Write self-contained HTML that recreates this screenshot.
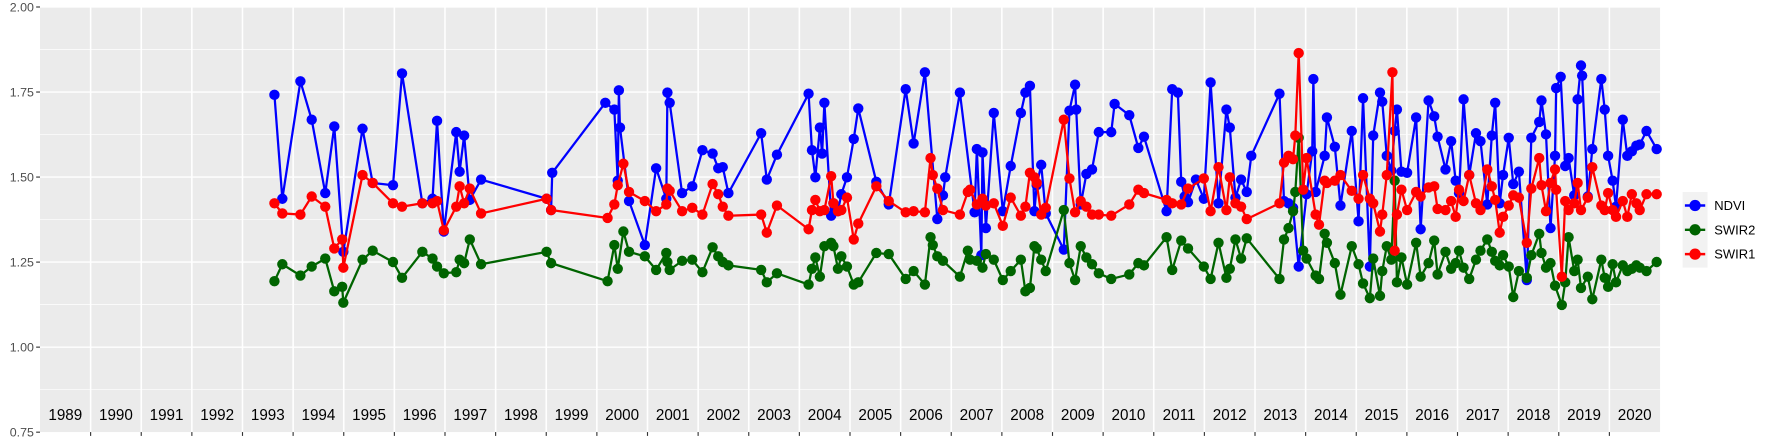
<!DOCTYPE html>
<html><head><meta charset="utf-8"><style>html,body{margin:0;padding:0;background:#fff}svg{display:block}</style></head>
<body>
<svg id="s" width="1773" height="442" viewBox="0 0 1570 391.4" xmlns="http://www.w3.org/2000/svg" font-family="Liberation Sans, sans-serif">
<rect x="35.4" y="6.2" width="1434.6" height="376.4" fill="#ebebeb"/>
<g id="grid"></g>
<g id="data"></g>
<g font-size="11" fill="#4d4d4d" text-anchor="end">
<text x="30" y="10">2.00</text><text x="30" y="85.5">1.75</text><text x="30" y="160.8">1.50</text>
<text x="30" y="236.1">1.25</text><text x="30" y="311.4">1.00</text><text x="30" y="386.7">0.75</text>
</g>
<rect x="1490" y="170" width="22" height="67" fill="#f2f2f2"/>
<g stroke-width="2.2"><line x1="1492" x2="1510" y1="182" y2="182" stroke="#0000ff"/><circle cx="1501" cy="182" r="5" fill="#0000ff"/>
<line x1="1492" x2="1510" y1="203.5" y2="203.5" stroke="#006400"/><circle cx="1501" cy="203.5" r="5" fill="#006400"/>
<line x1="1492" x2="1510" y1="225" y2="225" stroke="#ff0000"/><circle cx="1501" cy="225" r="5" fill="#ff0000"/></g>
<g font-size="11.5" fill="#000"><text x="1518" y="186">NDVI</text><text x="1518" y="207.5">SWIR2</text><text x="1518" y="229">SWIR1</text></g>
</svg>
<script>
const NS="http://www.w3.org/2000/svg";
function el(p,t,a){const e=document.createElementNS(NS,t);for(const k in a)e.setAttribute(k,a[k]);p.appendChild(e);return e;}
const g=document.getElementById('grid');
for(let k=0;k<5;k++){el(g,'line',{x1:35.4,x2:1470,y1:43.85+75.3*k,y2:43.85+75.3*k,stroke:'#fff','stroke-width':0.6});}
for(let k=0;k<5;k++){el(g,'line',{x1:35.4,x2:1470,y1:6.2+75.3*k,y2:6.2+75.3*k,stroke:'#fff','stroke-width':1.2});}
for(let k=1;k<32;k++){const x=35.4+44.83*k;el(g,'line',{x1:x,x2:x,y1:6.2,y2:382.6,stroke:'#fff','stroke-width':1.4});el(g,'line',{x1:x,x2:x,y1:382.6,y2:386,stroke:'#333','stroke-width':1});}
for(let k=0;k<6;k++)el(g,'line',{x1:32,x2:35.4,y1:6.2+75.3*k,y2:6.2+75.3*k,stroke:'#333','stroke-width':1});
for(let k=0;k<32;k++){const t=el(g,'text',{x:35.4+44.83*(k+0.5),y:372,'font-size':13.5,'text-anchor':'middle',fill:'#000'});t.textContent=1989+k;}
const N=[[243,84],[250,176],[266,72],[276,106],[288,171],[296,112],[304,223],[321,114],[330,162],[348,164],[356,65],[374,180],[383,176],[387,107],[393,205],[404,117],[407,152],[411,120],[416,177],[426,159],[484,176],[488,186],[489,153],[536,91],[544,97],[547,160],[548,80],[549,113],[557,178],[571,217],[581,149],[590,176],[591,82],[593,91],[604,171],[613,165],[622,133],[631,136],[636,149],[640,148],[645,171],[674,118],[679,159],[688,137],[716,83],[719,133],[722,157],[726,113],[728,136],[730,91],[736,191],[738,180],[742,187],[745,172],[750,157],[756,123],[760,96],[776,161],[787,181],[802,79],[809,127],[819,64],[830,194],[835,173],[837,157],[850,82],[863,188],[865,132],[869,226],[870,135],[873,202],[880,100],[888,187],[895,147],[904,100],[908,82],[912,76],[916,187],[918,164],[922,146],[926,189],[942,221],[947,98],[952,75],[953,97],[957,181],[962,154],[967,150],[973,117],[984,117],[987,92],[1000,102],[1008,131],[1013,121],[1033,187],[1038,79],[1043,82],[1046,161],[1049,174],[1052,179],[1059,159],[1066,176],[1072,73],[1079,180],[1086,97],[1089,113],[1094,175],[1099,159],[1104,170],[1108,138],[1133,83],[1137,178],[1141,180],[1145,184],[1150,236],[1157,172],[1162,134],[1163,70],[1165,170],[1173,138],[1175,104],[1182,130],[1187,182],[1197,116],[1203,196],[1207,87],[1213,236],[1216,120],[1222,82],[1224,90],[1228,138],[1232,151],[1235,116],[1237,97],[1241,152],[1246,153],[1254,104],[1258,203],[1265,89],[1270,103],[1273,121],[1280,150],[1285,125],[1289,160],[1292,171],[1296,88],[1301,155],[1307,118],[1311,125],[1317,181],[1321,120],[1324,91],[1328,180],[1331,155],[1336,122],[1340,163],[1345,152],[1352,248],[1356,122],[1363,108],[1365,89],[1369,119],[1373,202],[1377,138],[1378,78],[1382,68],[1386,147],[1389,140],[1394,173],[1397,88],[1400,58],[1401,67],[1406,174],[1410,132],[1418,70],[1421,97],[1424,138],[1428,160],[1431,183],[1437,106],[1441,138],[1445,134],[1449,129],[1452,128],[1458,116],[1467,132]];
const R=[[243,180],[250,189],[266,190],[276,174],[288,183],[296,220],[303,212],[304,237],[321,155],[330,162],[348,180],[356,183],[374,180],[383,180],[387,178],[393,204],[404,183],[407,165],[411,180],[416,167],[426,189],[484,176],[488,186],[538,193],[544,181],[547,164],[552,145],[557,170],[571,178],[581,187],[590,181],[591,167],[593,169],[604,187],[613,184],[622,190],[631,163],[636,172],[640,183],[645,191],[674,190],[679,206],[688,182],[716,203],[719,186],[722,177],[726,187],[730,186],[736,156],[738,180],[742,187],[745,186],[750,175],[756,212],[760,198],[776,165],[787,178],[802,188],[809,187],[819,188],[824,140],[826,155],[830,167],[835,186],[850,190],[857,170],[859,168],[865,181],[870,176],[873,182],[880,180],[888,200],[895,175],[904,191],[908,183],[912,153],[916,157],[918,162],[922,190],[926,184],[942,106],[947,158],[952,188],[957,178],[962,183],[967,190],[973,190],[984,191],[1000,181],[1008,168],[1013,171],[1033,177],[1038,180],[1046,181],[1052,167],[1066,158],[1072,187],[1079,148],[1086,186],[1089,157],[1094,180],[1099,183],[1104,194],[1133,180],[1137,144],[1141,138],[1145,141],[1147,120],[1150,47],[1154,168],[1157,140],[1165,190],[1168,199],[1173,160],[1175,162],[1182,160],[1187,155],[1197,169],[1203,176],[1207,155],[1213,176],[1216,180],[1222,205],[1224,190],[1228,155],[1233,64],[1235,222],[1237,190],[1241,168],[1246,186],[1254,170],[1258,174],[1265,166],[1270,165],[1273,185],[1280,186],[1285,178],[1289,192],[1292,168],[1296,178],[1301,155],[1307,180],[1311,186],[1317,150],[1321,165],[1324,177],[1328,206],[1331,192],[1336,182],[1340,173],[1345,175],[1352,215],[1356,167],[1363,140],[1365,164],[1369,187],[1373,162],[1377,150],[1378,168],[1383,245],[1386,178],[1389,186],[1394,180],[1397,162],[1400,186],[1406,175],[1410,148],[1418,182],[1421,186],[1424,171],[1428,186],[1431,192],[1437,178],[1441,192],[1445,172],[1449,180],[1452,186],[1458,172],[1467,172]];
const G=[[243,249],[250,234],[266,244],[276,236],[288,229],[296,258],[303,254],[304,268],[321,230],[330,222],[348,232],[356,246],[374,223],[383,229],[387,236],[393,242],[404,241],[407,230],[411,233],[416,212],[426,234],[484,223],[488,233],[538,249],[544,217],[547,238],[552,205],[557,223],[571,227],[581,239],[590,224],[591,232],[593,239],[604,231],[613,230],[622,241],[631,219],[636,227],[640,232],[645,235],[674,239],[679,250],[688,242],[716,252],[719,238],[722,228],[726,245],[730,218],[736,215],[738,218],[742,238],[745,227],[750,236],[756,252],[760,250],[776,224],[787,225],[802,247],[809,240],[819,252],[824,210],[826,217],[830,227],[835,231],[850,245],[857,222],[859,230],[865,231],[870,237],[873,225],[880,230],[888,248],[895,240],[904,230],[908,258],[912,255],[916,218],[918,220],[922,230],[926,240],[942,186],[947,233],[952,248],[957,218],[962,228],[967,234],[973,242],[984,247],[1000,243],[1008,233],[1013,235],[1033,210],[1038,239],[1046,213],[1052,220],[1066,236],[1072,247],[1079,215],[1086,246],[1089,238],[1094,212],[1099,229],[1104,211],[1133,247],[1137,212],[1141,202],[1145,187],[1147,170],[1150,122],[1154,222],[1157,229],[1165,244],[1168,247],[1173,207],[1175,215],[1182,233],[1187,261],[1197,218],[1203,234],[1207,251],[1213,264],[1216,229],[1222,262],[1224,240],[1228,218],[1232,230],[1235,160],[1237,250],[1241,228],[1246,252],[1254,215],[1258,245],[1265,233],[1270,213],[1273,243],[1280,223],[1285,238],[1289,233],[1292,222],[1296,237],[1301,247],[1307,230],[1311,222],[1317,212],[1321,223],[1324,231],[1328,235],[1331,226],[1336,236],[1340,263],[1345,240],[1352,246],[1356,226],[1363,207],[1365,224],[1369,237],[1373,233],[1377,253],[1383,270],[1386,250],[1389,210],[1394,240],[1397,230],[1400,255],[1406,245],[1410,265],[1418,230],[1421,246],[1424,254],[1428,234],[1431,250],[1437,235],[1441,240],[1445,238],[1449,235],[1452,237],[1458,240],[1467,232]];
const d=document.getElementById('data');
function series(P,c){el(d,'polyline',{points:P.map(p=>p.join(',')).join(' '),fill:'none',stroke:c,'stroke-width':2,'stroke-linejoin':'round'});P.forEach(p=>el(d,'circle',{cx:p[0],cy:p[1],r:4.6,fill:c}));}
series(N,'#0000ff');series(G,'#006400');series(R,'#ff0000');
</script>
</body></html>
